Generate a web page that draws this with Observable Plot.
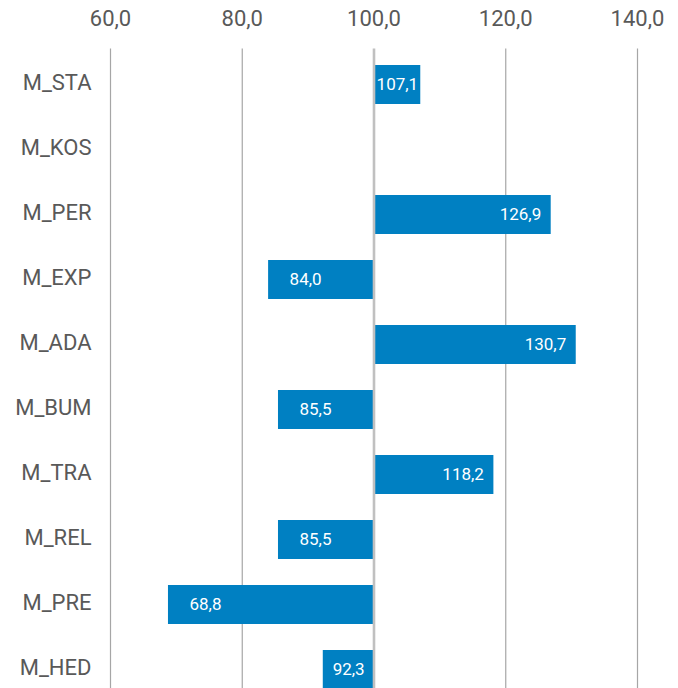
<!DOCTYPE html>
<html>
<head>
<meta charset="utf-8">
<script src="https://cdn.jsdelivr.net/npm/d3@7"></script>
<script src="https://cdn.jsdelivr.net/npm/@observablehq/plot@0.6"></script>
<style>
  html, body { margin: 0; padding: 0; background: #fff; overflow: hidden; }
  #chart svg { display: block; }
</style>
</head>
<body>
<div id="chart"></div>
<script>
const categories = ["M_STA", "M_KOS", "M_PER", "M_EXP", "M_ADA", "M_BUM", "M_TRA", "M_REL", "M_PRE", "M_HED"];
const values = [107.1, null, 126.9, 84.0, 130.7, 85.5, 118.2, 85.5, 68.8, 92.3];
const xTicks = [60, 80, 100, 120, 140];
const baseline = 100;

const data = categories.map((c, i) => ({cat: c, value: values[i]})).filter(d => d.value != null);
const fmt = v => v.toFixed(1).replace(".", ",");

const W = 678, H = 688, ML = 110, MR = 41, MT = 48.5, STEP = 65.6;
const pxPerUnit = (W - ML - MR) / (xTicks[xTicks.length - 1] - xTicks[0]);
const narrow = d => Math.abs(d.value - baseline) * pxPerUnit < 60;

const pos = data.filter(d => !narrow(d) && d.value >= baseline);
const neg = data.filter(d => !narrow(d) && d.value < baseline);
const nar = data.filter(d => narrow(d)).map(d => ({...d, mid: (d.value + baseline) / 2}));

const blue = "#0080c2";
const textFont = "Roboto, 'DejaVu Sans', sans-serif";

const chart = Plot.plot({
  width: W,
  height: H,
  marginLeft: ML,
  marginRight: MR,
  marginTop: MT,
  marginBottom: 0,
  style: {fontFamily: textFont, background: "#fff", color: "#595959"},
  x: {domain: [60, 140], ticks: xTicks, tickFormat: fmt},
  y: {domain: categories, range: [MT, MT + STEP * categories.length], paddingInner: 0.4, paddingOuter: 0.2},
  marks: [
    Plot.ruleX(xTicks.filter(t => t !== baseline), {stroke: "#a6a6a6", strokeWidth: 1.2}),
    Plot.barX(data, {x1: baseline, x2: "value", y: "cat", fill: blue}),
    Plot.ruleX([baseline], {stroke: "#c0c0c0", strokeWidth: 2.6}),
    Plot.text(pos, {x: "value", y: "cat", text: d => fmt(d.value), textAnchor: "end", dx: -10, fill: "white", fontSize: 17}),
    Plot.text(neg, {x: "value", y: "cat", text: d => fmt(d.value), textAnchor: "start", dx: 21, fill: "white", fontSize: 17}),
    Plot.text(nar, {x: "mid", y: "cat", text: d => fmt(d.value), textAnchor: "middle", fill: "white", fontSize: 17}),
    Plot.axisX({anchor: "top", ticks: xTicks, tickFormat: fmt, tickSize: 0, tickPadding: 23, fontSize: 22, fill: "#595959", label: null}),
    Plot.axisY({anchor: "left", tickSize: 0, tickPadding: 19, fontSize: 22, fill: "#595959", dy: -2, label: null})
  ]
});
document.getElementById("chart").append(chart);
</script>
</body>
</html>
